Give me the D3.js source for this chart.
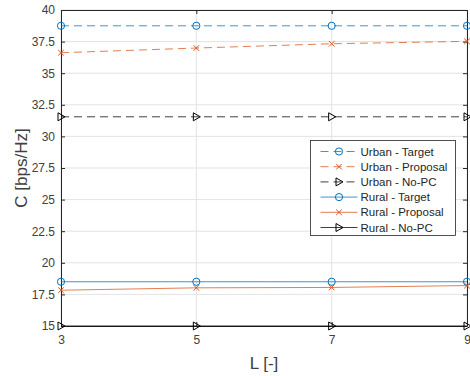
<!DOCTYPE html>
<html>
<head>
<meta charset="utf-8">
<script src="https://cdn.jsdelivr.net/npm/d3@7"></script>
<style>
  body { margin: 0; background: #fff; }
  text { font-family: "Liberation Sans", Helvetica, Arial, sans-serif; }
</style>
</head>
<body>
<div id="chart"></div>
<script>
const xValues = [3, 5, 7, 9];
const yTicks = [15, 17.5, 20, 22.5, 25, 27.5, 30, 32.5, 35, 37.5, 40];
const urbanTarget = [38.75, 38.75, 38.75, 38.75];
const urbanProposal = [36.62, 36.99, 37.33, 37.52];
const urbanNoPC = [31.55, 31.55, 31.55, 31.55];
const ruralTarget = [18.5, 18.5, 18.5, 18.5];
const ruralProposal = [17.83, 18.02, 18.05, 18.2];
const ruralNoPC = [15.0, 15.0, 15.0, 15.0];

const series = [
  { name: 'Urban - Target', values: urbanTarget, color: '#0072BD', dash: true, marker: 'circle' },
  { name: 'Urban - Proposal', values: urbanProposal, color: '#D95319', dash: true, marker: 'x' },
  { name: 'Urban - No-PC', values: urbanNoPC, color: '#000000', dash: true, marker: 'tri' },
  { name: 'Rural - Target', values: ruralTarget, color: '#0072BD', dash: false, marker: 'circle' },
  { name: 'Rural - Proposal', values: ruralProposal, color: '#D95319', dash: false, marker: 'x' },
  { name: 'Rural - No-PC', values: ruralNoPC, color: '#000000', dash: false, marker: 'tri' }
];

const W = 470, H = 376;
const margin = { top: 10, right: 3, bottom: 50, left: 61 };
const width = W - margin.left - margin.right;
const height = H - margin.top - margin.bottom;
const axisColor = '#262626';

const svg = d3.select('#chart').append('svg')
  .attr('width', W).attr('height', H);
const g = svg.append('g').attr('transform', `translate(${margin.left},${margin.top})`);

const x = d3.scaleLinear().domain([3, 9]).range([0, width]);
const y = d3.scaleLinear().domain([15, 40]).range([height, 0]);

// grid
g.append('g').selectAll('line').data(xValues).join('line')
  .attr('x1', d => x(d)).attr('x2', d => x(d)).attr('y1', 0).attr('y2', height)
  .attr('stroke', '#e3e3e3').attr('stroke-width', 1);
g.append('g').selectAll('line').data(yTicks).join('line')
  .attr('x1', 0).attr('x2', width).attr('y1', d => y(d)).attr('y2', d => y(d))
  .attr('stroke', '#e3e3e3').attr('stroke-width', 1);

// axes
const xAxis = g.append('g').attr('transform', `translate(0,${height})`)
  .call(d3.axisBottom(x).tickValues(xValues).tickFormat(d3.format('d')).tickSizeInner(-4).tickSizeOuter(0).tickPadding(9));
const yAxis = g.append('g')
  .call(d3.axisLeft(y).tickValues(yTicks).tickFormat(d3.format('')).tickSizeInner(-4).tickSizeOuter(0).tickPadding(6));
const xTop = g.append('g')
  .call(d3.axisTop(x).tickValues(xValues).tickSizeInner(-4).tickSizeOuter(0).tickFormat(''));
const yRight = g.append('g').attr('transform', `translate(${width},0)`)
  .call(d3.axisRight(y).tickValues(yTicks).tickSizeInner(-4).tickSizeOuter(0).tickFormat(''));
[xAxis, yAxis, xTop, yRight].forEach(a => {
  a.select('.domain').attr('stroke', axisColor);
  a.selectAll('.tick line').attr('stroke', axisColor);
  a.selectAll('text').attr('fill', '#404040').style('font-size', '12px');
});

const line = d3.line().x((d, i) => x(xValues[i])).y(d => y(d));

function drawMarker(sel, type, color) {
  if (type === 'circle') {
    sel.append('circle').attr('r', 3.6).attr('fill', 'none').attr('stroke', color).attr('stroke-width', 1);
  } else if (type === 'x') {
    sel.append('path').attr('d', 'M-2.8,-2.8L2.8,2.8M-2.8,2.8L2.8,-2.8')
      .attr('stroke', color).attr('stroke-width', 1).attr('fill', 'none');
  } else {
    sel.append('path').attr('d', 'M-3,-4L4,0L-3,4Z')
      .attr('fill', 'none').attr('stroke', color).attr('stroke-width', 1);
  }
}

series.forEach(s => {
  g.append('path').datum(s.values)
    .attr('d', line).attr('fill', 'none')
    .attr('stroke', s.color).attr('stroke-width', 1)
    .attr('stroke-opacity', 0.75)
    .attr('stroke-dasharray', s.dash ? '8,5' : null);
  s.values.forEach((v, i) => {
    const m = g.append('g').attr('transform', `translate(${x(xValues[i])},${y(v)})`);
    drawMarker(m, s.marker, s.color);
  });
});

// labels
svg.append('text').attr('x', margin.left + width / 2).attr('y', 369)
  .attr('text-anchor', 'middle').attr('fill', '#404040').style('font-size', '17px').text('L [-]');
svg.append('text').attr('transform', `translate(27,${margin.top + height / 2}) rotate(-90)`)
  .attr('text-anchor', 'middle').attr('fill', '#404040').style('font-size', '17px').text('C [bps/Hz]');

// legend
const lg = svg.append('g').attr('transform', 'translate(310.5,140.5)');
lg.append('rect').attr('width', 145).attr('height', 95)
  .attr('fill', '#fff').attr('stroke', axisColor).attr('stroke-width', 0.8);
series.forEach((s, i) => {
  const yy = 11 + i * 15.2;
  const row = lg.append('g').attr('transform', `translate(0,${yy})`);
  row.append('line').attr('x1', 10).attr('x2', 47).attr('y1', 0).attr('y2', 0)
    .attr('stroke', s.color).attr('stroke-width', 1).attr('stroke-opacity', 0.75)
    .attr('stroke-dasharray', s.dash ? '8,5' : null);
  const m = row.append('g').attr('transform', 'translate(28.5,0)');
  drawMarker(m, s.marker, s.color);
  row.append('text').attr('x', 50).attr('y', 0).attr('dy', '0.35em')
    .attr('fill', '#262626').style('font-size', '11.5px').text(s.name);
});
</script>
</body>
</html>
